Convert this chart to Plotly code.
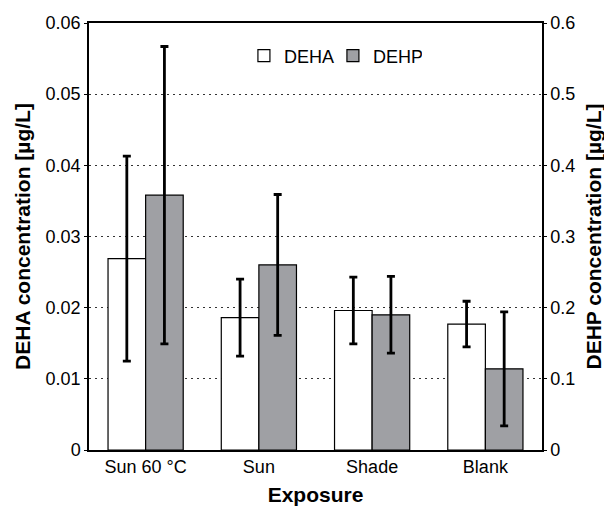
import plotly.graph_objects as go

categories = ["Sun 60 °C", "Sun", "Shade", "Blank"]
deha_mean = [0.0269, 0.0186, 0.0196, 0.0177]
deha_sd = [0.0144, 0.0054, 0.0047, 0.0032]
dehp_mean = [0.358, 0.260, 0.190, 0.114]
dehp_sd = [0.209, 0.099, 0.054, 0.080]

left_ticks = [0, 0.01, 0.02, 0.03, 0.04, 0.05, 0.06]
left_labels = ["0", "0.01", "0.02", "0.03", "0.04", "0.05", "0.06"]
right_ticks = [0, 0.1, 0.2, 0.3, 0.4, 0.5, 0.6]
right_labels = ["0", "0.1", "0.2", "0.3", "0.4", "0.5", "0.6"]

FONT = "Liberation Sans, Arial, sans-serif"

fig = go.Figure()
fig.add_trace(go.Bar(
    x=categories, y=deha_mean, name="DEHA",
    marker=dict(color="white", line=dict(color="black", width=1.2)),
    width=0.332, offset=-0.332,
    error_y=dict(type="data", array=deha_sd, visible=True, color="black", thickness=2.8, width=4),
    yaxis="y",
))
fig.add_trace(go.Bar(
    x=categories, y=dehp_mean, name="DEHP",
    marker=dict(color="#9fa0a4", line=dict(color="black", width=1.2)),
    width=0.332, offset=0,
    error_y=dict(type="data", array=dehp_sd, visible=True, color="black", thickness=2.8, width=4),
    yaxis="y2",
))

# page body has an 8px margin, so the figure is 8px smaller and margins adjusted
fig.update_layout(
    width=604, height=498,
    margin=dict(l=81, r=70, t=15, b=56),
    paper_bgcolor="white", plot_bgcolor="white",
    font=dict(family=FONT, size=18, color="black"),
    showlegend=True,
    legend=dict(orientation="h", x=0.342, y=0.923, xanchor="left", yanchor="middle",
                font=dict(size=18), bgcolor="rgba(0,0,0,0)", itemwidth=30,
                entrywidth=44, entrywidthmode="pixels", tracegroupgap=0),
    xaxis=dict(
        type="category", showline=True, linecolor="black", linewidth=1.5, mirror=True,
        ticks="", tickfont=dict(size=18), automargin=False,
        title=dict(text="<b>Exposure</b>", font=dict(size=21), standoff=12),
    ),
    yaxis=dict(
        range=[0, 0.06], tickvals=left_ticks, ticktext=left_labels,
        showline=True, linecolor="black", linewidth=1.5,
        ticks="outside", ticklen=3, tickcolor="black", automargin=False,
        showgrid=True, gridcolor="#333333", griddash="2px,4px", gridwidth=1,
        zeroline=False, tickfont=dict(size=18),
        title=dict(text="<b>DEHA concentration [µg/L]</b>", font=dict(size=21), standoff=9),
    ),
    yaxis2=dict(
        range=[0, 0.6], tickvals=right_ticks, ticktext=right_labels,
        overlaying="y", side="right",
        showline=True, linecolor="black", linewidth=1.5,
        ticks="outside", ticklen=3, tickcolor="black", automargin=False,
        showgrid=False, zeroline=False, tickfont=dict(size=18),
        title=dict(text="<b>DEHP concentration [µg/L]</b>", font=dict(size=21), standoff=12),
    ),
)

fig.write_html("out.html")
